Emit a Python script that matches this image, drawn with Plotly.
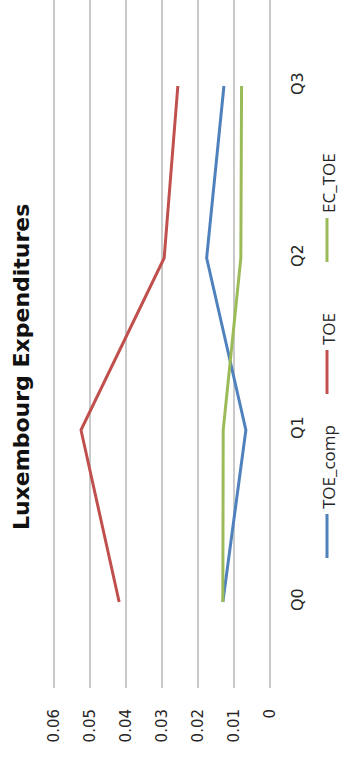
import plotly.graph_objects as go

# Luxembourg expenditures by quarter (chart is drawn rotated 90 degrees)
quarters = ["Q0", "Q1", "Q2", "Q3"]
toe_comp = [0.0131, 0.0067, 0.0176, 0.0128]
toe = [0.0419, 0.0525, 0.0294, 0.0256]
ec_toe = [0.0131, 0.0130, 0.0081, 0.0079]
value_ticks = [0, 0.01, 0.02, 0.03, 0.04, 0.05, 0.06]

W, H = 352, 758
BLUE, RED, GREEN = "#4F81BD", "#C0504D", "#9BBB59"
GRID = "#c9c9c9"
FONT = "DejaVu Sans"
LEG_FONT = "Open Sans"


def px_x(px):
    return px / W


def px_y(py):
    return 1 - py / H


series = [("TOE_comp", toe_comp, BLUE), ("TOE", toe, RED), ("EC_TOE", ec_toe, GREEN)]

fig = go.Figure()
for name, vals, color in series:
    fig.add_trace(go.Scatter(x=vals, y=quarters, mode="lines", name=name,
                             line=dict(color=color, width=3)))

fig.update_layout(
    width=W, height=H,
    margin=dict(l=0, r=0, t=0, b=0),
    paper_bgcolor="white", plot_bgcolor="white",
    showlegend=False,
    font=dict(family=FONT, color="#262626", size=15),
    xaxis=dict(domain=[px_x(52.2), px_x(270)], range=[0.0605, 0],
               tickvals=value_ticks, ticktext=[str(v) for v in value_ticks],
               tickangle=-90, ticklabelstandoff=17,
               showgrid=True, gridcolor=GRID, gridwidth=1.5,
               zeroline=True, zerolinecolor=GRID, zerolinewidth=1.5,
               showline=False, ticks="", automargin=False),
    yaxis=dict(domain=[px_y(688), 1], range=[-0.5, 3.5],
               type="category", categoryorder="array", categoryarray=quarters,
               side="right", tickangle=-90, ticklabelstandoff=16,
               showgrid=False, zeroline=False, showline=False, ticks="",
               tickfont=dict(size=16), automargin=False),
)

# title, rotated like the rest of the chart
fig.add_annotation(text="<b>Luxembourg Expenditures</b>", textangle=-90,
                   xref="paper", yref="paper", x=px_x(21), y=px_y(367),
                   xanchor="center", yanchor="middle", showarrow=False,
                   font=dict(family=FONT, size=22, color="#111"))

# hand-built vertical legend
legend_pos = [("TOE_comp", BLUE, 514, 558), ("TOE", RED, 350, 394), ("EC_TOE", GREEN, 218, 262)]
for name, color, top, bottom in legend_pos:
    fig.add_shape(type="line", xref="paper", yref="paper",
                  x0=px_x(327), x1=px_x(327), y0=px_y(top), y1=px_y(bottom),
                  line=dict(color=color, width=3))
    fig.add_annotation(text=name, textangle=-90, xref="paper", yref="paper",
                       x=px_x(328), y=px_y(top - 3), xanchor="center", yanchor="bottom",
                       showarrow=False, font=dict(family=LEG_FONT, size=17, color="#262626"))

# drop the browser's default 8px body margin so the figure sits at the page corner
fig.write_html("out.html", config={"displayModeBar": False},
               post_script="document.body.style.margin='0';")
